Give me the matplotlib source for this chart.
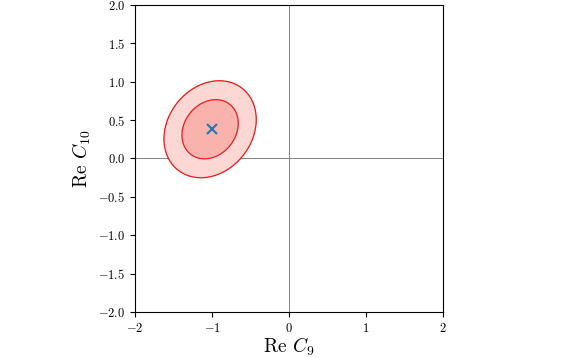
import numpy as np
import matplotlib
matplotlib.use("Agg")
import matplotlib.pyplot as plt

plt.rcParams['font.family'] = 'serif'
plt.rcParams['font.serif'] = ['cmr10', 'DejaVu Serif']
plt.rcParams['mathtext.fontset'] = 'cm'
plt.rcParams['axes.formatter.use_mathtext'] = True
plt.rcParams['axes.unicode_minus'] = True

# Fit parameters
best_fit = [-1.00, 0.385]        # marker (Re C9, Re C10)
contour_center = [-1.025, 0.38]
sigmas = [0.241, 0.254]
rho = 0.2
chi2_levels = [0.0, 2.30, 6.18]   # 1 sigma, 2 sigma in 2D
fill_colors = ['#f9b2ac', '#fdd7d4']
edge_color = '#e31a1c'

xlim = [-2, 2]
ylim = [-2, 2]
xticks = [-2, -1, 0, 1, 2]
yticks = [-2.0, -1.5, -1.0, -0.5, 0.0, 0.5, 1.0, 1.5, 2.0]

fig = plt.figure(figsize=(5.79, 3.58), dpi=100)
ax = fig.add_axes([0.2332, 0.1285, 0.532, 0.858])

x = np.linspace(-2, 2, 600)
y = np.linspace(-2, 2, 600)
X, Y = np.meshgrid(x, y)
dx = (X - contour_center[0]) / sigmas[0]
dy = (Y - contour_center[1]) / sigmas[1]
chi2 = (dx**2 - 2 * rho * dx * dy + dy**2) / (1 - rho**2)

ax.contourf(X, Y, chi2, levels=chi2_levels, colors=fill_colors)
ax.contour(X, Y, chi2, levels=chi2_levels[1:], colors=edge_color, linewidths=0.9)

ax.axhline(0, color='grey', lw=0.7, zorder=0.5)
ax.axvline(0, color='grey', lw=0.7, zorder=0.5)

ax.plot([best_fit[0]], [best_fit[1]], marker='x', color='#1f77b4',
        markersize=7, mew=1.5, ls='none')

ax.set_xlim(xlim)
ax.set_ylim(ylim)
ax.set_xticks(xticks)
ax.set_yticks(yticks)
ax.set_xticklabels([f'${v}$' for v in xticks])
ax.set_yticklabels([f'${v:.1f}$' for v in yticks])
ax.tick_params(direction='out', labelsize=9)
ax.set_xlabel(r'Re $C_9$', fontsize=14, labelpad=1)
ax.set_ylabel(r'Re $C_{10}$', fontsize=14)

fig.savefig('out.png', dpi=100)
